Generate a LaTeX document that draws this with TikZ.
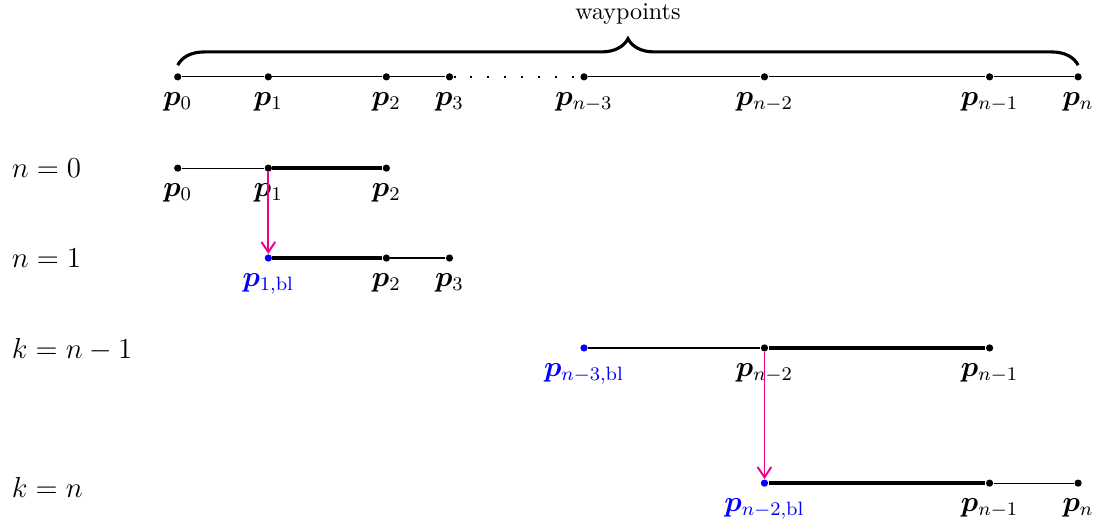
\documentclass[tikz,border=0pt]{standalone}
\usepackage{bm}
\usepackage{tikz}
\usetikzlibrary{arrows.meta, positioning, decorations.pathreplacing}

\begin{document}
\begin{tikzpicture}[
    dot/.style={circle, fill=black, inner sep=0pt, minimum size=3pt},
    bldot/.style={dot, fill=blue},
    pt/.style={font=\large},
    bpt/.style={font=\large, text=blue},
    thin seg/.style={line width=0.5pt},
    thick seg/.style={line width=1.8pt},
    shift arrow/.style={magenta, line width=0.8pt, -{Straight Barb[length=1.5mm, width=2mm]}},
    rowlbl/.style={anchor=west, font=\large}
  ]
    \useasboundingbox (0,0) rectangle (16,-7.71);
    % all waypoints
    \node[dot] (w0) at (2.59,-1.12) {};
    \node[dot] (w1) at (3.91,-1.12) {};
    \node[dot] (w2) at (5.63,-1.12) {};
    \node[dot] (w3) at (6.55,-1.12) {};
    \node[dot] (w4) at (8.51,-1.12) {};
    \node[dot] (w5) at (11.14,-1.12) {};
    \node[dot] (w6) at (14.42,-1.12) {};
    \node[dot] (w7) at (15.71,-1.12) {};
    \node[pt, below=1mm] at (w0) {$\bm{p}_{0}$};
    \node[pt, below=1mm] at (w1) {$\bm{p}_{1}$};
    \node[pt, below=1mm] at (w2) {$\bm{p}_{2}$};
    \node[pt, below=1mm] at (w3) {$\bm{p}_{3}$};
    \node[pt, below=1mm] at (w4) {$\bm{p}_{n-3}$};
    \node[pt, below=1mm] at (w5) {$\bm{p}_{n-2}$};
    \node[pt, below=1mm] at (w6) {$\bm{p}_{n-1}$};
    \node[pt, below=1mm] at (w7) {$\bm{p}_{n}$};
    \draw[thin seg] (w0) -- (w1) -- (w2) -- (w3);
    \draw[line width=0.8pt, dash pattern=on 0.8pt off 6.2pt] (w3) -- (w4);
    \draw[thin seg] (w4) -- (w5) -- (w6) -- (w7);
    \draw[decorate, decoration={brace, amplitude=11pt}, line width=1.3pt]
      (2.59,-0.95) -- (15.71,-0.95) node[midway, above=13pt] (wp) {waypoints};
    % n = 0
    \node[rowlbl] (r0) at (0.05,-2.45) {$n=0$};
    \node[dot] (a0) at (2.59,-2.45) {};
    \node[dot] (a1) at (3.91,-2.45) {};
    \node[dot] (a2) at (5.63,-2.45) {};
    \node[pt, below=1mm] at (a0) {$\bm{p}_{0}$};
    \node[pt, below=1mm] at (a1) {$\bm{p}_{1}$};
    \node[pt, below=1mm] at (a2) {$\bm{p}_{2}$};
    \draw[thin seg] (a0) -- (a1);
    \draw[thick seg] (a1) -- (a2);
    % n = 1
    \node[rowlbl] (r1) at (0.05,-3.76) {$n=1$};
    \node[bldot] (b1) at (3.91,-3.76) {};
    \node[dot] (b2) at (5.63,-3.76) {};
    \node[dot] (b3) at (6.55,-3.76) {};
    \node[bpt, below=1mm] at (b1) {$\bm{p}_{1,\mathrm{bl}}$};
    \node[pt, below=1mm] at (b2) {$\bm{p}_{2}$};
    \node[pt, below=1mm] at (b3) {$\bm{p}_{3}$};
    \draw[thick seg] (b1) -- (b2);
    \draw[thin seg] (b2) -- (b3);
    \draw[shift arrow] (a1) -- (b1);
    % k = n-1
    \node[rowlbl] (r2) at (0.05,-5.1) {$k=n-1$};
    \node[bldot] (c4) at (8.51,-5.07) {};
    \node[dot] (c5) at (11.14,-5.07) {};
    \node[dot] (c6) at (14.42,-5.07) {};
    \node[bpt, below=1mm] at (c4) {$\bm{p}_{n-3,\mathrm{bl}}$};
    \node[pt, below=1mm] at (c5) {$\bm{p}_{n-2}$};
    \node[pt, below=1mm] at (c6) {$\bm{p}_{n-1}$};
    \draw[thin seg] (c4) -- (c5);
    \draw[thick seg] (c5) -- (c6);
    % k = n
    \node[rowlbl] (r3) at (0.05,-7.1) {$k=n$};
    \node[bldot] (d5) at (11.14,-7.04) {};
    \node[dot] (d6) at (14.42,-7.04) {};
    \node[dot] (d7) at (15.71,-7.04) {};
    \node[bpt, below=1mm] at (d5) {$\bm{p}_{n-2,\mathrm{bl}}$};
    \node[pt, below=1mm] at (d6) {$\bm{p}_{n-1}$};
    \node[pt, below=1mm] at (d7) {$\bm{p}_{n}$};
    \draw[thick seg] (d5) -- (d6);
    \draw[thin seg] (d6) -- (d7);
    \draw[shift arrow] (c5) -- (d5);
\end{tikzpicture}
\end{document}
